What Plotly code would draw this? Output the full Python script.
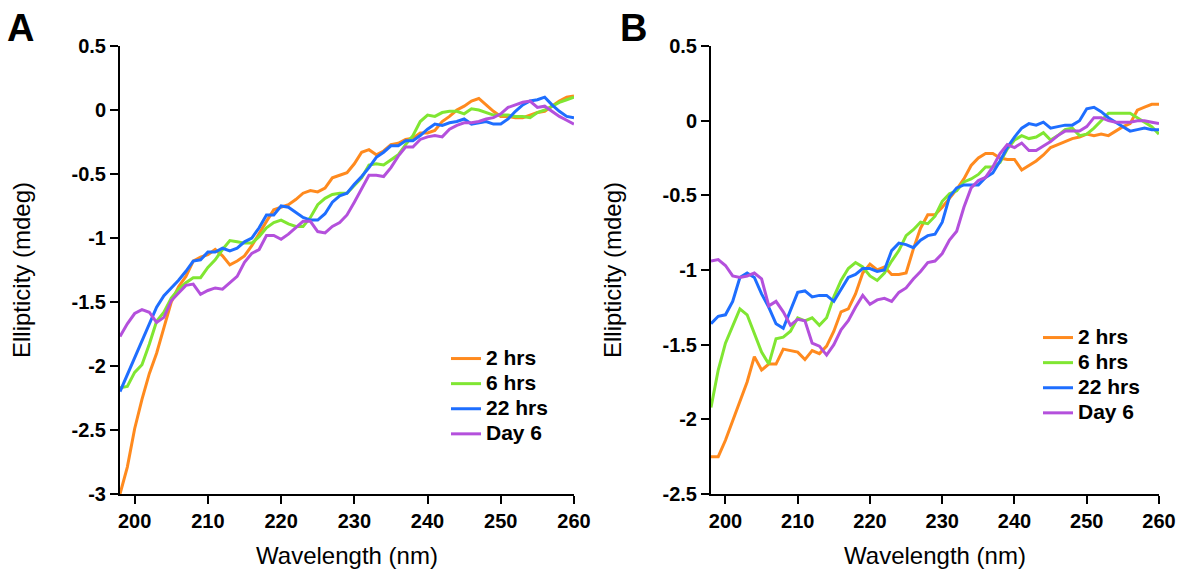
import plotly.graph_objects as go

wavelength = [198, 199, 200, 201, 202, 203, 204, 205, 206, 207, 208, 209, 210,
              211, 212, 213, 214, 215, 216, 217, 218, 219, 220, 221, 222, 223,
              224, 225, 226, 227, 228, 229, 230, 231, 232, 233, 234, 235, 236,
              237, 238, 239, 240, 241, 242, 243, 244, 245, 246, 247, 248, 249,
              250, 251, 252, 253, 254, 255, 256, 257, 258, 259, 260]

series_names = ["2 hrs", "6 hrs", "22 hrs", "Day 6"]

# Panel A
a_2hrs = [-3.00, -2.79, -2.49, -2.26, -2.06, -1.90, -1.70, -1.50, -1.38, -1.30,
          -1.18, -1.15, -1.13, -1.09, -1.14, -1.21, -1.18, -1.14, -1.06, -0.96,
          -0.87, -0.78, -0.76, -0.74, -0.70, -0.65, -0.63, -0.64, -0.61, -0.53,
          -0.51, -0.49, -0.42, -0.33, -0.31, -0.35, -0.32, -0.27, -0.26, -0.23,
          -0.22, -0.18, -0.18, -0.16, -0.09, -0.05, 0.00, 0.03, 0.07, 0.09,
          0.04, -0.01, -0.05, -0.05, -0.06, -0.06, -0.04, -0.02, -0.01, 0.03,
          0.07, 0.10, 0.11]
a_6hrs = [-2.17, -2.16, -2.05, -1.99, -1.83, -1.65, -1.58, -1.47, -1.40, -1.35,
          -1.31, -1.31, -1.23, -1.17, -1.09, -1.02, -1.03, -1.04, -1.04, -0.99,
          -0.92, -0.88, -0.86, -0.89, -0.91, -0.91, -0.84, -0.74, -0.69, -0.66,
          -0.65, -0.65, -0.59, -0.53, -0.43, -0.42, -0.43, -0.39, -0.35, -0.27,
          -0.20, -0.09, -0.04, -0.05, -0.02, -0.01, -0.01, -0.03, 0.01, 0.00,
          -0.02, -0.04, -0.04, -0.04, -0.05, -0.05, -0.06, -0.02, 0.00, 0.03,
          0.06, 0.08, 0.10]
a_22hrs = [-2.20, -2.07, -1.93, -1.80, -1.67, -1.54, -1.45, -1.39, -1.33, -1.26,
           -1.18, -1.17, -1.11, -1.11, -1.08, -1.10, -1.08, -1.03, -1.00, -0.92,
           -0.82, -0.82, -0.75, -0.76, -0.80, -0.84, -0.86, -0.86, -0.81, -0.72,
           -0.67, -0.65, -0.58, -0.52, -0.45, -0.37, -0.33, -0.28, -0.28, -0.24,
           -0.24, -0.20, -0.15, -0.11, -0.12, -0.10, -0.09, -0.07, -0.11, -0.10,
           -0.09, -0.11, -0.11, -0.07, -0.01, 0.04, 0.07, 0.08, 0.10, 0.04,
           -0.01, -0.05, -0.06]
a_day6 = [-1.77, -1.67, -1.59, -1.56, -1.58, -1.66, -1.62, -1.49, -1.43, -1.37,
          -1.36, -1.44, -1.41, -1.39, -1.40, -1.35, -1.30, -1.19, -1.12, -1.09,
          -0.98, -0.98, -1.01, -0.97, -0.92, -0.87, -0.87, -0.95, -0.96, -0.91,
          -0.88, -0.82, -0.72, -0.61, -0.51, -0.51, -0.52, -0.45, -0.36, -0.29,
          -0.29, -0.23, -0.21, -0.20, -0.21, -0.15, -0.12, -0.10, -0.10, -0.09,
          -0.07, -0.06, -0.03, 0.02, 0.04, 0.06, 0.07, 0.02, 0.03, -0.01,
          -0.05, -0.08, -0.11]

# Panel B
b_2hrs = [-2.25, -2.25, -2.14, -2.01, -1.88, -1.75, -1.58, -1.67, -1.63, -1.63,
          -1.53, -1.54, -1.55, -1.60, -1.54, -1.56, -1.51, -1.41, -1.28, -1.26,
          -1.16, -1.02, -0.96, -1.00, -0.98, -1.03, -1.03, -1.02, -0.86, -0.72,
          -0.63, -0.63, -0.58, -0.52, -0.46, -0.39, -0.30, -0.25, -0.22, -0.22,
          -0.25, -0.26, -0.26, -0.33, -0.30, -0.27, -0.23, -0.18, -0.16, -0.14,
          -0.12, -0.11, -0.09, -0.10, -0.09, -0.10, -0.07, -0.04, -0.02, 0.07,
          0.09, 0.11, 0.11]
b_6hrs = [-1.92, -1.67, -1.49, -1.37, -1.26, -1.30, -1.43, -1.55, -1.63, -1.46,
          -1.45, -1.41, -1.32, -1.34, -1.32, -1.37, -1.32, -1.18, -1.07, -0.99,
          -0.95, -0.98, -1.04, -1.07, -1.02, -0.94, -0.87, -0.77, -0.73, -0.68,
          -0.69, -0.64, -0.54, -0.49, -0.47, -0.41, -0.39, -0.36, -0.31, -0.31,
          -0.28, -0.19, -0.13, -0.10, -0.12, -0.11, -0.08, -0.13, -0.10, -0.06,
          -0.05, -0.10, -0.09, -0.05, 0.00, 0.05, 0.05, 0.05, 0.05, 0.02,
          -0.01, -0.04, -0.09]
b_22hrs = [-1.36, -1.31, -1.30, -1.21, -1.05, -1.02, -1.05, -1.16, -1.25, -1.36,
           -1.39, -1.27, -1.15, -1.14, -1.18, -1.17, -1.17, -1.21, -1.13, -1.05,
           -1.03, -0.99, -0.99, -1.01, -1.00, -0.87, -0.82, -0.83, -0.85, -0.80,
           -0.77, -0.76, -0.68, -0.51, -0.45, -0.43, -0.43, -0.43, -0.38, -0.35,
           -0.27, -0.18, -0.11, -0.05, -0.02, -0.03, -0.01, -0.05, -0.04, -0.03,
           -0.03, 0.00, 0.08, 0.09, 0.06, 0.02, -0.01, -0.04, -0.07, -0.06,
           -0.05, -0.06, -0.06]
b_day6 = [-0.94, -0.93, -0.97, -1.04, -1.05, -1.04, -1.02, -1.06, -1.24, -1.21,
          -1.28, -1.37, -1.33, -1.34, -1.49, -1.51, -1.57, -1.50, -1.40, -1.34,
          -1.25, -1.17, -1.23, -1.20, -1.19, -1.21, -1.15, -1.12, -1.06, -1.01,
          -0.95, -0.94, -0.89, -0.80, -0.74, -0.58, -0.45, -0.40, -0.38, -0.31,
          -0.22, -0.16, -0.18, -0.15, -0.20, -0.20, -0.17, -0.14, -0.10, -0.07,
          -0.07, -0.07, -0.04, 0.02, 0.02, 0.00, -0.01, -0.01, -0.01, 0.00,
          0.00, -0.01, -0.02]

x_ticks = [200, 210, 220, 230, 240, 250, 260]
a_yticks = [0.5, 0, -0.5, -1, -1.5, -2, -2.5, -3]
a_yticklabels = ["0.5", "0", "-0.5", "-1", "-1.5", "-2", "-2.5", "-3"]
b_yticks = [0.5, 0, -0.5, -1, -1.5, -2, -2.5]
b_yticklabels = ["0.5", "0", "-0.5", "-1", "-1.5", "-2", "-2.5"]

colors = ["#FF8A1E", "#80E632", "#1E6EFF", "#B450DC"]

W, H = 1182, 573
FONT = "Liberation Sans, Arial, sans-serif"


def legend_label(name):
    # legend rows are spaced from the legend font size; the label itself is drawn larger
    return '<span style="font-size:21px">' + name + "</span>"


fig = go.Figure()
for name, ys, c in zip(series_names, [a_2hrs, a_6hrs, a_22hrs, a_day6], colors):
    fig.add_trace(go.Scatter(x=wavelength, y=ys, mode="lines", name=legend_label(name),
                             line=dict(color=c, width=3),
                             xaxis="x", yaxis="y", legend="legend"))
for name, ys, c in zip(series_names, [b_2hrs, b_6hrs, b_22hrs, b_day6], colors):
    fig.add_trace(go.Scatter(x=wavelength, y=ys, mode="lines", name=legend_label(name),
                             line=dict(color=c, width=3),
                             xaxis="x2", yaxis="y2", legend="legend2"))

ax_common = dict(showline=True, linecolor="black", linewidth=2, ticks="outside",
                 ticklen=8, tickwidth=2, tickcolor="black", showgrid=False,
                 zeroline=False, automargin=False,
                 tickfont=dict(family=FONT, size=20, color="black", weight="bold"),
                 title_font=dict(family=FONT, size=24, color="black"))

y_dom = [(H - 494) / H, (H - 46) / H]
leg_font = dict(family=FONT, size=17, color="black", weight="bold")

fig.update_layout(
    width=W, height=H,
    margin=dict(l=0, r=0, t=0, b=0),
    paper_bgcolor="white", plot_bgcolor="white",
    font=dict(family=FONT, color="black"),
    xaxis=dict(domain=[120 / W, 574 / W], range=[198, 260], tickvals=x_ticks,
               anchor="y", title=dict(text="Wavelength (nm)", standoff=16), **ax_common),
    yaxis=dict(domain=y_dom, range=[-3, 0.5], tickvals=a_yticks,
               ticktext=a_yticklabels, anchor="x",
               title=dict(text="Ellipticity (mdeg)", standoff=34), **ax_common),
    xaxis2=dict(domain=[711 / W, 1159 / W], range=[198, 260], tickvals=x_ticks,
                anchor="y2", title=dict(text="Wavelength (nm)", standoff=16), **ax_common),
    yaxis2=dict(domain=y_dom, range=[-2.5, 0.5], tickvals=b_yticks,
                ticktext=b_yticklabels, anchor="x2",
                title=dict(text="Ellipticity (mdeg)", standoff=34), **ax_common),
    legend=dict(x=446 / W, y=1 - 341 / H, xanchor="left", yanchor="top",
                bgcolor="rgba(0,0,0,0)", borderwidth=0, tracegroupgap=0,
                font=leg_font),
    legend2=dict(x=1038 / W, y=1 - 320 / H, xanchor="left", yanchor="top",
                 bgcolor="rgba(0,0,0,0)", borderwidth=0, tracegroupgap=0,
                 font=leg_font),
    showlegend=True,
    annotations=[
        dict(text="A", x=5 / W, y=1 - 5 / H, xref="paper", yref="paper",
             xanchor="left", yanchor="top", showarrow=False,
             font=dict(family=FONT, size=38, color="black", weight="bold")),
        dict(text="B", x=618 / W, y=1 - 5 / H, xref="paper", yref="paper",
             xanchor="left", yanchor="top", showarrow=False,
             font=dict(family=FONT, size=38, color="black", weight="bold")),
    ],
)

fig.write_html(
    "out.html",
    config={"displayModeBar": False},
    post_script="document.body.style.margin='0';document.body.style.overflow='hidden';",
)
